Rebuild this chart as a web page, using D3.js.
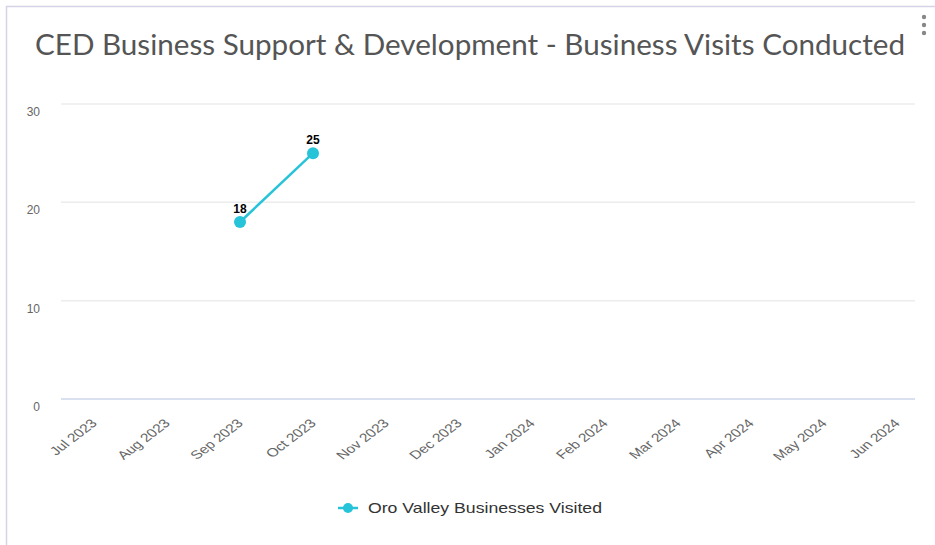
<!DOCTYPE html>
<html>
<head>
<meta charset="utf-8">
<script src="https://cdn.jsdelivr.net/npm/d3@7"></script>
<style>
  body { margin: 0; background: #fff; }
  svg { display: block; }
</style>
</head>
<body>
<div id="chart"></div>
<script>
// data
const months = ["Jul 2023", "Aug 2023", "Sep 2023", "Oct 2023", "Nov 2023", "Dec 2023",
                "Jan 2024", "Feb 2024", "Mar 2024", "Apr 2024", "May 2024", "Jun 2024"];
const visits = [null, null, 18, 25, null, null, null, null, null, null, null, null];
const yTicks = [0, 10, 20, 30];
const seriesName = "Oro Valley Businesses Visited";
const title = "CED Business Support & Development - Business Visits Conducted";

const width = 935, height = 545;
const lineColor = "#26c3d9";

let svg = d3.select("#chart").append("svg")
    .attr("width", width)
    .attr("height", height);

// card border
svg.append("path")
    .attr("d", "M6.5," + height + " L6.5,6.5 L" + width + ",6.5")
    .attr("fill", "none")
    .attr("stroke", "#d4d4e6")
    .attr("stroke-width", 1.5);

// menu dots
svg.selectAll(".dot-menu")
    .data([0, 1, 2])
    .enter().append("circle")
    .attr("cx", 924)
    .attr("cy", d => 17 + d * 8)
    .attr("r", 2.2)
    .attr("fill", "#888");

svg.append("text")
    .attr("x", 35)
    .attr("y", 55)
    .attr("font-family", "Lato, 'Open Sans', sans-serif")
    .attr("font-size", 28)
    .attr("fill", "#555")
    .attr("textLength", 870)
    .attr("lengthAdjust", "spacingAndGlyphs")
    .text(title);

let xScale = d3.scalePoint().domain(months).range([94, 897]);
let yScale = d3.scaleLinear().domain([0, 30]).range([399, 104]);

// grid
svg.append("g")
    .selectAll("line")
    .data(yTicks)
    .enter().append("line")
    .attr("x1", 61).attr("x2", 915)
    .attr("y1", d => yScale(d)).attr("y2", d => yScale(d))
    .attr("stroke", d => d === 0 ? "#ccd6eb" : "#ececec")
    .attr("stroke-width", 1.5);

// y labels
svg.append("g")
    .selectAll("text")
    .data(yTicks)
    .enter().append("text")
    .attr("x", 40)
    .attr("y", d => yScale(d) + 12)
    .attr("text-anchor", "end")
    .attr("font-family", "'Liberation Sans', Arial, sans-serif")
    .attr("font-size", 12)
    .attr("fill", "#666")
    .text(d => d);

// x labels (reference is stretched sideways a little)
svg.append("g")
    .selectAll("text")
    .data(months)
    .enter().append("text")
    .attr("text-anchor", "end")
    .attr("font-family", "'Liberation Sans', Arial, sans-serif")
    .attr("font-size", 12)
    .attr("fill", "#666")
    .attr("transform", d => "translate(" + (xScale(d) + 4) + ",424) scale(1.3,1) rotate(-45)")
    .text(d => d);

let pts = months.map((m, i) => ({ month: m, value: visits[i] })).filter(d => d.value != null);

let line = d3.line()
    .x(d => xScale(d.month))
    .y(d => yScale(d.value));

svg.append("path")
    .datum(pts)
    .attr("d", line)
    .attr("fill", "none")
    .attr("stroke", lineColor)
    .attr("stroke-width", 2.5);

svg.selectAll(".pt")
    .data(pts)
    .enter().append("circle")
    .attr("class", "pt")
    .attr("cx", d => xScale(d.month))
    .attr("cy", d => yScale(d.value))
    .attr("r", 6)
    .attr("fill", lineColor);

svg.selectAll(".lbl")
    .data(pts)
    .enter().append("text")
    .attr("class", "lbl")
    .attr("x", d => xScale(d.month))
    .attr("y", d => yScale(d.value) - 9)
    .attr("text-anchor", "middle")
    .attr("font-family", "'Liberation Sans', Arial, sans-serif")
    .attr("font-size", 12)
    .attr("font-weight", "bold")
    .attr("fill", "#000")
    .attr("stroke", "#fff")
    .attr("stroke-width", 2)
    .attr("paint-order", "stroke")
    .text(d => d.value);

// legend
let lg = svg.append("g").attr("transform", "translate(348,508)");
lg.append("line")
    .attr("x1", -10).attr("x2", 10)
    .attr("stroke", lineColor).attr("stroke-width", 2.5);
lg.append("circle").attr("r", 5).attr("fill", lineColor);
lg.append("text")
    .attr("x", 20)
    .attr("y", 5)
    .attr("font-family", "'Liberation Sans', Arial, sans-serif")
    .attr("font-size", 15)
    .attr("fill", "#333")
    .attr("textLength", 234)
    .attr("lengthAdjust", "spacingAndGlyphs")
    .text(seriesName);
</script>
</body>
</html>
